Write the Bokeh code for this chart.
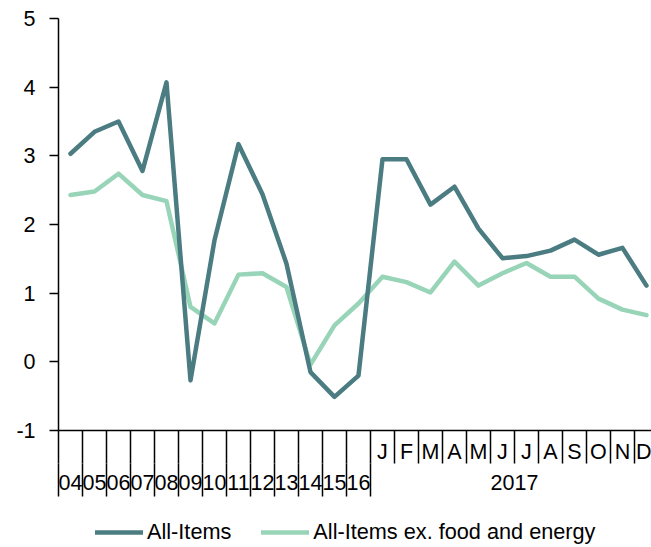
from bokeh.plotting import figure
from bokeh.layouts import column
from bokeh.models import Range1d, LinearAxis, FixedTicker, Legend, LegendItem, ColumnDataSource
from bokeh.embed import file_html
from bokeh.resources import INLINE

years = ["04", "05", "06", "07", "08", "09", "10", "11", "12", "13", "14", "15", "16"]
months = ["J", "F", "M", "A", "M", "J", "J", "A", "S", "O", "N", "D"]
month_group = "2017"
y_ticks = [-1, 0, 1, 2, 3, 4, 5]

all_items = [3.03, 3.35, 3.50, 2.78, 4.07, -0.27, 1.77, 3.17, 2.44, 1.43, -0.15, -0.51, -0.20,
             2.95, 2.95, 2.29, 2.55, 1.94, 1.51, 1.54, 1.62, 1.78, 1.56, 1.66, 1.11]
core = [2.43, 2.48, 2.74, 2.43, 2.34, 0.80, 0.56, 1.27, 1.29, 1.09, -0.04, 0.53, 0.85,
        1.24, 1.16, 1.01, 1.46, 1.11, 1.29, 1.44, 1.24, 1.24, 0.92, 0.76, 0.68]
series_names = ["All-Items", "All-Items ex. food and energy"]

DARK = "#4A7C82"
LIGHT = "#98D4B8"
FONT = "Liberation Sans"
FS = "21.5px"
LW = 4.5

n_years = len(years)
n = n_years + len(months)
xs = [i + 0.5 for i in range(n)]
src = ColumnDataSource(dict(x=xs, all_items=all_items, core=core))

p = figure(width=651, height=500, output_backend="svg", toolbar_location=None, title=None,
           x_range=Range1d(0, 24.71), y_range=Range1d(-1, 5), x_axis_location=None,
           min_border_left=58, min_border_right=0, min_border_top=18, min_border_bottom=70)
p.grid.visible = False
p.outline_line_color = None
p.background_fill_color = "white"
p.border_fill_color = "white"

p.line("x", "core", source=src, line_color=LIGHT, line_width=LW, line_cap="round", line_join="round")
p.line("x", "all_items", source=src, line_color=DARK, line_width=LW, line_cap="round", line_join="round")

# y axis
ya = p.yaxis[0]
ya.ticker = FixedTicker(ticks=y_ticks, minor_ticks=[])
ya.major_label_overrides = {t: str(t) for t in y_ticks}
ya.major_tick_out = 9
ya.major_tick_in = 0
ya.minor_tick_out = 0
ya.minor_tick_in = 0
ya.major_label_standoff = 14
ya.major_label_text_font = FONT
ya.major_label_text_font_size = FS
ya.major_label_text_color = "black"
ya.axis_line_color = "black"
ya.axis_line_width = 1.5
ya.major_tick_line_color = "black"
ya.major_tick_line_width = 1.5

# x axis, first row: months
month_centers = [n_years + i + 0.5 for i in range(len(months))]
axA = LinearAxis(ticker=FixedTicker(ticks=month_centers, minor_ticks=list(range(n + 1))))
axA.major_label_overrides = {c: m for c, m in zip(month_centers, months)}
axA.major_tick_out = 0
axA.major_tick_in = 0
axA.major_tick_line_color = None
axA.minor_tick_out = 33
axA.minor_tick_in = 0
axA.minor_tick_line_color = "black"
axA.minor_tick_line_width = 1.5
axA.major_label_standoff = -24
axA.major_label_text_font = FONT
axA.major_label_text_font_size = FS
axA.major_label_text_color = "black"
axA.axis_line_color = "black"
axA.axis_line_width = 1.5
p.add_layout(axA, "below")

# x axis, second row: years and the 2017 group
year_centers = [i + 0.5 for i in range(n_years)]
group_center = (n_years + n) / 2
axB = LinearAxis(ticker=FixedTicker(ticks=year_centers + [group_center],
                                    minor_ticks=list(range(n_years + 1)) + [n]))
ov = {c: y for c, y in zip(year_centers, years)}
ov[group_center] = month_group
axB.major_label_overrides = ov
axB.major_tick_out = 0
axB.major_tick_in = 0
axB.major_tick_line_color = None
axB.minor_tick_out = 30
axB.minor_tick_in = 3
axB.minor_tick_line_color = "black"
axB.minor_tick_line_width = 1.5
axB.major_label_standoff = -22
axB.major_label_text_font = FONT
axB.major_label_text_font_size = FS
axB.major_label_text_color = "black"
axB.axis_line_color = None
p.add_layout(axB, "below")

# legend strip (same series, drawn out of view; only the legend shows)
lg = figure(width=651, height=47, output_backend="svg", toolbar_location=None, title=None,
            x_range=Range1d(100, 101), y_range=Range1d(100, 101),
            x_axis_location=None, y_axis_location=None,
            min_border_left=58, min_border_right=0, min_border_top=0, min_border_bottom=0)
lg.grid.visible = False
lg.outline_line_color = None
lg.background_fill_color = "white"
lg.border_fill_color = "white"
l1 = lg.line("x", "all_items", source=src, line_color=DARK, line_width=LW, line_cap="round")
l2 = lg.line("x", "core", source=src, line_color=LIGHT, line_width=LW, line_cap="round")
legend = Legend(items=[LegendItem(label=series_names[0], renderers=[l1]),
                       LegendItem(label=series_names[1], renderers=[l2])],
                orientation="horizontal", location=(37, 0), padding=0, margin=0, spacing=30,
                glyph_width=48, glyph_height=30, label_height=30, label_standoff=4,
                label_text_font=FONT, label_text_font_size="21.7px", label_text_color="black",
                border_line_color=None, background_fill_alpha=0)
lg.add_layout(legend)

layout = column(p, lg, spacing=0)
open("out.html", "w").write(file_html(layout, INLINE))
